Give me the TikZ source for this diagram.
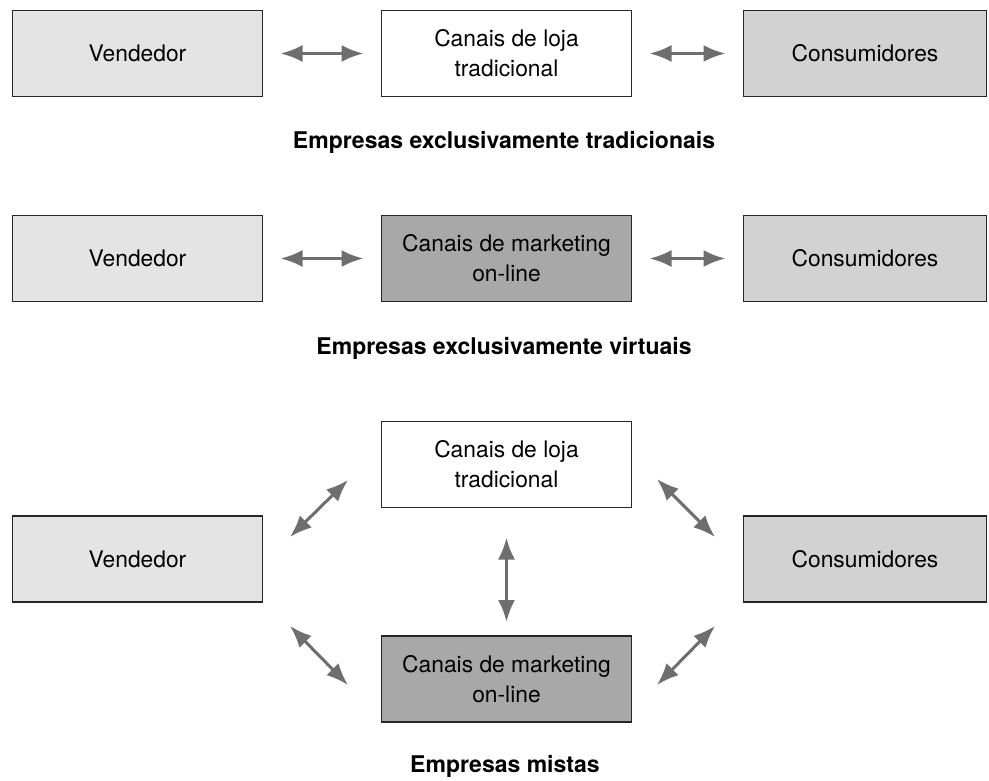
\documentclass[tikz,border=0pt]{standalone}
\usepackage{fontspec}
\setmainfont{TeX Gyre Heros}
\usetikzlibrary{positioning,arrows.meta}
\definecolor{boxline}{HTML}{262626}
\definecolor{sellerfill}{HTML}{E4E4E4}
\definecolor{clientfill}{HTML}{D2D2D2}
\definecolor{onlinefill}{HTML}{A8A8A8}
\definecolor{arrowgray}{HTML}{6E6E6E}

\begin{document}
\begin{tikzpicture}[x=1pt,y=-1pt,
				box/.style={draw=boxline,line width=1.8pt,minimum width=250pt,minimum height=86pt,inner sep=0pt,outer sep=0pt,
					align=center,font=\fontsize{22.8}{30}\selectfont},
				seller/.style={box,fill=sellerfill},
				client/.style={box,fill=clientfill,minimum width=243pt},
				store/.style={box,fill=white},
				online/.style={box,fill=onlinefill},
				title/.style={font=\fontsize{23}{26}\selectfont\bfseries},
				link/.style={{Latex[length=22pt,width=17pt]}-{Latex[length=22pt,width=17pt]},draw=arrowgray,line width=3pt},
				gap/.style={link,shorten <=18pt,shorten >=18pt}]
				\useasboundingbox (0,0) rectangle (989,781);

				\node[seller] (V1) at (137.5,53.5)  {Vendedor};
				\node[store]  (L1) [right=119pt of V1] {Canais de loja\\tradicional};
				\node[client] (C1) [right=112pt of L1] {Consumidores};
				\node[title]  (T1) at (504,142) {Empresas exclusivamente tradicionais};

				\node[seller] (V2) at (137.5,258.5) {Vendedor};
				\node[online] (O2) [right=119pt of V2] {Canais de marketing\\on-line};
				\node[client] (C2) [right=112pt of O2] {Consumidores};
				\node[title]  (T2) at (504,348) {Empresas exclusivamente virtuais};

				\node[seller] (V3) at (137.5,559)   {Vendedor};
				\node[store]  (L3) at (506.5,464.5) {Canais de loja\\tradicional};
				\node[online] (O3) at (506.5,679)   {Canais de marketing\\on-line};
				\node[client] (C3) at (865,559)     {Consumidores};
				\node[title]  (T3) at (505,766) {Empresas mistas};

				\coordinate (VL) at (290,537);
				\coordinate (LV) at (348,480);
				\coordinate (VO) at (290,626);
				\coordinate (OV) at (348,685);
				\coordinate (LC) at (657,479);
				\coordinate (CL) at (715,537);
				\coordinate (OC) at (657,685);
				\coordinate (CO) at (715,626);

				\draw[gap] (V1) -- (L1);
				\draw[gap] (L1) -- (C1);
				\draw[gap] (V2) -- (O2);
				\draw[gap] (O2) -- (C2);
				\draw[link,shorten <=30pt,shorten >=14pt] (L3) -- (O3);
				\draw[link] (VL) -- (LV);
				\draw[link] (VO) -- (OV);
				\draw[link] (LC) -- (CL);
				\draw[link] (OC) -- (CO);
			\end{tikzpicture}
\end{document}
